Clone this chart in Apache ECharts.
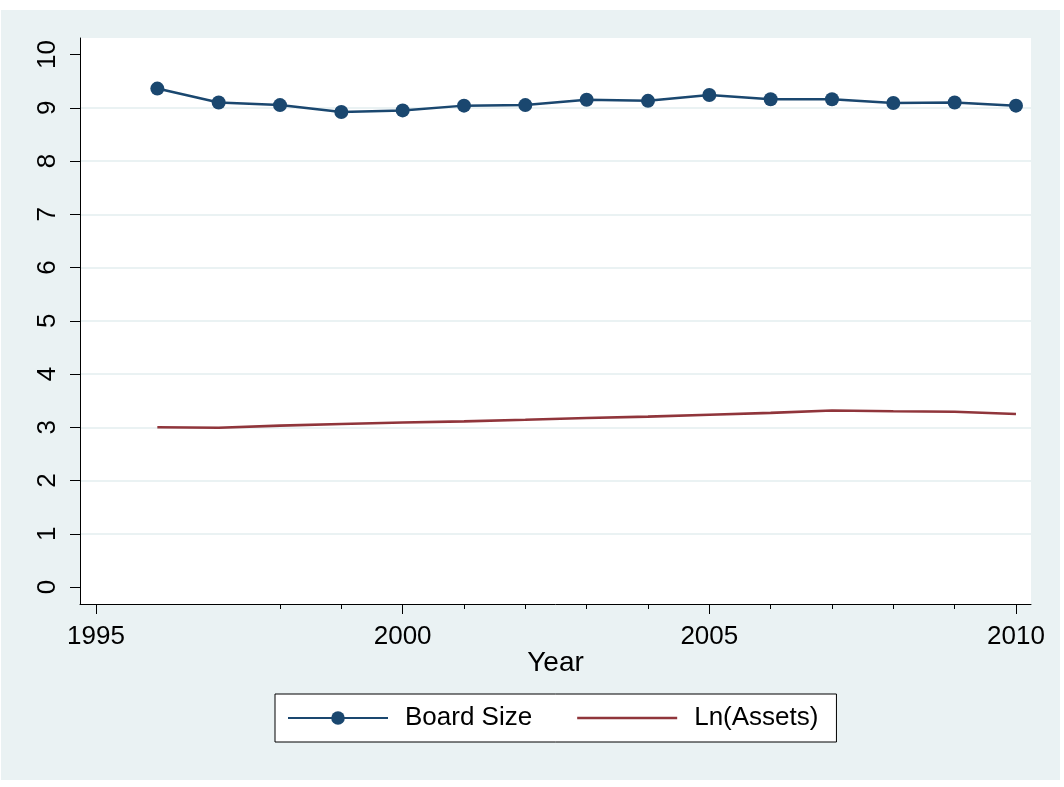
<!DOCTYPE html>
<html>
<head>
<meta charset="utf-8">
<script src="https://cdn.jsdelivr.net/npm/echarts@6/dist/echarts.min.js"></script>
<style>
  html, body { margin: 0; padding: 0; background: #ffffff; }
  #chart { position: absolute; left: 1px; top: 10px; width: 1059px; height: 770px; }
</style>
</head>
<body>
<div id="chart"></div>
<script>
const years = [1996, 1997, 1998, 1999, 2000, 2001, 2002, 2003, 2004, 2005, 2006, 2007, 2008, 2009, 2010];
const boardSize = [9.36, 9.10, 9.05, 8.92, 8.95, 9.04, 9.05, 9.15, 9.13, 9.24, 9.16, 9.16, 9.09, 9.10, 9.04];
const lnAssets = [3.00, 2.99, 3.03, 3.06, 3.09, 3.11, 3.14, 3.175, 3.20, 3.235, 3.27, 3.315, 3.30, 3.29, 3.25];
const xMajorTicks = [1995, 2000, 2005, 2010];
const xMinorTicks = [1998, 1999, 2001, 2002, 2003, 2004, 2006, 2007, 2008, 2009];
const yTicks = [0, 1, 2, 3, 4, 5, 6, 7, 8, 9, 10];
const seriesNames = ['Board Size', 'Ln(Assets)'];
const xTitle = 'Year';

const font = 'Liberation Sans, Arial, sans-serif';
const chart = echarts.init(document.getElementById('chart'));
const gridColors = yTicks.map((v, i) => (i === 0 || i === yTicks.length - 1) ? 'rgba(0,0,0,0)' : '#eaf2f3');

const option = {
  backgroundColor: '#eaf2f3',
  animation: false,
  grid: {
    left: 79, top: 28, width: 951, height: 566,
    show: true, backgroundColor: '#ffffff', borderWidth: 0
  },
  xAxis: [{
    type: 'value', min: 1994.739, max: 2010.245, position: 'bottom',
    name: xTitle, nameLocation: 'middle', nameGap: 45, nameMoveOverlap: false,
    nameTextStyle: { fontFamily: font, fontSize: 28, color: '#000' },
    axisLine: { show: true, onZero: false, lineStyle: { color: '#000', width: 1 } },
    axisTick: { show: true, inside: false, customValues: xMajorTicks, length: 10, lineStyle: { color: '#000', width: 1 } },
    axisLabel: { show: true, customValues: xMajorTicks, margin: 20, fontFamily: font, fontSize: 26, color: '#000',
      formatter: v => String(v) },
    splitLine: { show: false }
  }, {
    type: 'value', min: 1994.739, max: 2010.245, position: 'bottom',
    axisLine: { show: false, onZero: false },
    axisTick: { show: true, inside: false, customValues: xMinorTicks, length: 5, lineStyle: { color: '#000', width: 1 } },
    axisLabel: { show: false },
    splitLine: { show: false }
  }],
  yAxis: {
    type: 'value', min: -0.319, max: 10.31,
    axisLine: { show: true, onZero: false, lineStyle: { color: '#000', width: 1 } },
    axisTick: { show: true, customValues: yTicks, length: 10, lineStyle: { color: '#000', width: 1 } },
    axisLabel: { show: true, customValues: yTicks, rotate: 90, margin: 19, fontFamily: font, fontSize: 26, color: '#000' },
    splitLine: { show: true, lineStyle: { color: gridColors, width: 2 } }
  },
  legend: {
    left: 274, top: 684,
    orient: 'horizontal',
    backgroundColor: '#ffffff', borderColor: '#000', borderWidth: 1, borderRadius: 0,
    padding: [11, 18, 11, 12],
    itemWidth: 100, itemHeight: 17, itemGap: 45,
    textStyle: { fontFamily: font, fontSize: 26, color: '#000', padding: [0, 0, 0, 12] },
    data: [
      { name: seriesNames[0] },
      { name: seriesNames[1], icon: 'path://M0,0 L100,0 L100,2.4 L0,2.4 Z' }
    ]
  },
  series: [{
    name: seriesNames[0], type: 'line', xAxisIndex: 0,
    data: years.map((y, i) => [y, boardSize[i]]),
    symbol: 'circle', symbolSize: 14, showSymbol: true,
    lineStyle: { color: '#1a476f', width: 2.5 },
    itemStyle: { color: '#1a476f' }
  }, {
    name: seriesNames[1], type: 'line', xAxisIndex: 0,
    data: years.map((y, i) => [y, lnAssets[i]]),
    symbol: 'none',
    lineStyle: { color: '#90353b', width: 2.6 },
    itemStyle: { color: '#90353b' }
  }]
};
chart.setOption(option);
</script>
</body>
</html>
